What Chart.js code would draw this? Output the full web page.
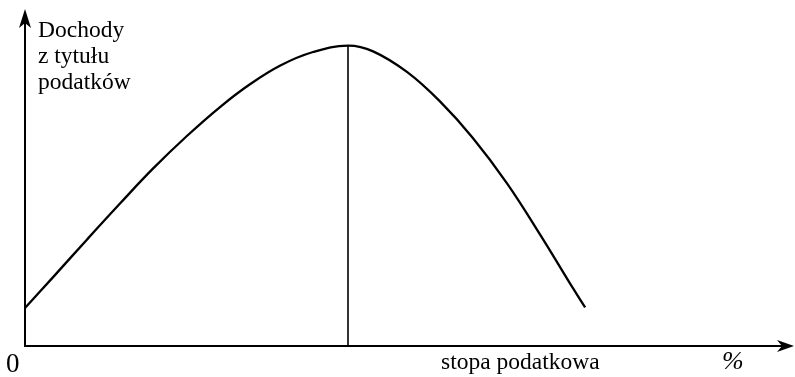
<!DOCTYPE html>
<html lang="pl">
<head>
<meta charset="utf-8">
<title>Krzywa Laffera</title>
<script src="https://cdn.jsdelivr.net/npm/chart.js@4/dist/chart.umd.min.js"></script>
<style>
  html, body { margin: 0; padding: 0; background: #fff; }
  canvas { display: block; }
</style>
</head>
<body>
<canvas id="laffer" width="795" height="377"></canvas>
<script>
// stopa podatkowa (%) and dochody z tytułu podatków, both on a 0-100 scale
var taxRates = [0, 3.7, 8.2, 12.5, 16.8, 21.3, 25.7, 29.6, 33.6, 37.9, 42.5, 45.8, 50.3, 54.6, 58.9, 63.4, 67.8, 72.1, 73.7];
var revenue  = [11.3, 20.5, 31.8, 42.4, 52.7, 62.5, 71.2, 77.9, 83.5, 87.5, 89.4, 87.7, 81.5, 72.8, 62.0, 48.5, 33.1, 17.2, 11.5];
var peakRate = 42.5;
var peakRevenue = 89.4;

var yTitle = ["Dochody", "z tytułu", "podatków"];
var xTitle = "stopa podatkowa";
var originLabel = "0";
var unitLabel = "%";

var curve = taxRates.map(function(r, i) { return { x: r, y: revenue[i] }; });
var peakLine = [{ x: peakRate, y: 0 }, { x: peakRate, y: peakRevenue }];

var serif = "'Liberation Serif', 'DejaVu Serif', serif";

/* axes with arrow heads, drawn under the curve */
var axesPlugin = {
    id: 'arrowAxes',
    beforeDatasetsDraw: function(chart) {
        var ctx = chart.ctx;
        var xs = chart.scales.x, ys = chart.scales.y;
        var x0 = xs.getPixelForValue(0);
        var y0 = ys.getPixelForValue(0);
        var top = ys.getPixelForValue(100);
        var right = xs.getPixelForValue(100) + 9;

        ctx.save();
        ctx.strokeStyle = '#000';
        ctx.fillStyle = '#000';
        ctx.lineWidth = 2;
        ctx.beginPath();
        ctx.moveTo(x0, top + 6);
        ctx.lineTo(x0, y0);
        ctx.lineTo(right - 6, y0);
        ctx.stroke();

        // y arrow
        ctx.beginPath();
        ctx.moveTo(x0, top - 1);
        ctx.lineTo(x0 - 6, top + 18);
        ctx.lineTo(x0, top + 13);
        ctx.lineTo(x0 + 6, top + 18);
        ctx.closePath();
        ctx.fill();

        // x arrow
        ctx.beginPath();
        ctx.moveTo(right, y0);
        ctx.lineTo(right - 17, y0 - 6);
        ctx.lineTo(right - 12, y0);
        ctx.lineTo(right - 17, y0 + 6);
        ctx.closePath();
        ctx.fill();
        ctx.restore();
    },
    afterDraw: function(chart) {
        var ctx = chart.ctx;
        var xs = chart.scales.x, ys = chart.scales.y;
        var x0 = xs.getPixelForValue(0);
        var y0 = ys.getPixelForValue(0);

        ctx.save();
        ctx.fillStyle = '#000';
        ctx.textBaseline = 'alphabetic';
        ctx.textAlign = 'left';
        ctx.font = "23.5px " + serif;
        for (var i = 0; i < yTitle.length; i++) {
            ctx.fillText(yTitle[i], x0 + 13, 37 + i * 26);
        }
        ctx.fillText(xTitle, 441, y0 + 23);

        ctx.font = "italic 26px " + serif;
        ctx.fillText(unitLabel, 722, y0 + 23);

        ctx.font = "27px " + serif;
        ctx.fillText(originLabel, x0 - 19, y0 + 26);
        ctx.restore();
    }
};

new Chart(document.getElementById('laffer'), {
    type: 'scatter',
    data: {
        datasets: [
            {
                data: curve,
                showLine: true,
                borderColor: '#000',
                borderWidth: 2.3,
                pointRadius: 0,
                tension: 0.4
            },
            {
                data: peakLine,
                showLine: true,
                borderColor: '#000',
                borderWidth: 1.6,
                pointRadius: 0
            }
        ]
    },
    options: {
        responsive: false,
        devicePixelRatio: 1,
        animation: false,
        layout: { padding: { left: 25, right: 10, top: 10, bottom: 31 } },
        plugins: {
            legend: { display: false },
            tooltip: { enabled: false }
        },
        scales: {
            x: { type: 'linear', min: 0, max: 100, display: false },
            y: { type: 'linear', min: 0, max: 100, display: false }
        }
    },
    plugins: [axesPlugin]
});
</script>
</body>
</html>
